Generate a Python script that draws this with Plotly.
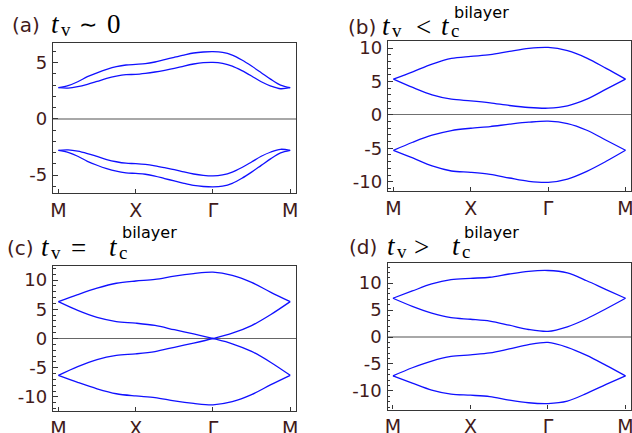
import plotly.graph_objects as go

W, H = 632, 433

# k-path positions (M -> X -> Gamma -> M)
k = [0, 0.25, 0.5, 0.75, 1, 1.25, 1.5, 1.75, 2, 2.25, 2.5, 2.75, 3]
k_fine = [0, 0.125, 0.25, 0.375, 0.5, 0.625, 0.75, 0.875,
          1, 1.125, 1.25, 1.375, 1.5, 1.625, 1.75, 1.875,
          2, 2.125, 2.25, 2.375, 2.5, 2.625, 2.75, 2.875, 3]
tick_pos = [0, 1, 2, 3]
tick_lbl = ["M", "X", "Γ", "M"]

# (a) t_v ~ 0
a_up_outer = [2.77, 2.95, 3.3, 3.75, 4.1, 4.4, 4.64, 4.79,
              4.85, 4.91, 5.06, 5.27, 5.48, 5.68, 5.86, 5.95,
              5.98, 5.92, 5.68, 5.24, 4.70, 4.11, 3.51, 3.0, 2.77]
a_up_inner = [2.77, 2.74, 2.86, 3.07, 3.33, 3.6, 3.8, 3.93,
              3.96, 4.05, 4.17, 4.32, 4.49, 4.70, 4.88, 5.0,
              5.03, 4.94, 4.70, 4.29, 3.81, 3.30, 2.92, 2.68, 2.77]
a_lo_inner = [-2.8, -2.77, -2.88, -3.09, -3.35, -3.62, -3.82, -3.95,
              -3.99, -4.06, -4.19, -4.35, -4.52, -4.73, -4.91, -5.03,
              -5.08, -4.99, -4.74, -4.33, -3.84, -3.33, -2.95, -2.71, -2.8]
a_lo_outer = [-2.8, -2.98, -3.33, -3.78, -4.13, -4.43, -4.66, -4.8,
              -4.86, -4.93, -5.09, -5.31, -5.53, -5.74, -5.92, -6.02,
              -6.06, -5.99, -5.74, -5.29, -4.74, -4.14, -3.54, -3.03, -2.8]

# (b) t_v < t_c
b_up_top = [5.35, 6.45, 7.6, 8.45, 8.75, 9.0, 9.5, 9.95, 10.1, 9.6, 8.5, 6.95, 5.35]
b_up_bot = [5.35, 4.1, 3.0, 2.35, 2.1, 1.8, 1.4, 1.1, 1.0, 1.35, 2.35, 3.85, 5.35]
b_lo_top = [-5.3, -4.1, -3.05, -2.35, -2.0, -1.75, -1.4, -1.1, -0.95, -1.3, -2.3, -3.8, -5.3]
b_lo_bot = [-5.3, -6.45, -7.65, -8.4, -8.6, -8.9, -9.45, -9.95, -10.1, -9.6, -8.45, -6.95, -5.3]

# (c) t_v = t_c
c_top = [6.3, 7.5, 8.6, 9.45, 9.83, 10.1, 10.67, 11.1, 11.34, 10.8, 9.6, 7.9, 6.3]
c_cross1 = [6.3, 4.8, 3.6, 2.9, 2.63, 2.23, 1.5, 0.78, 0.0, -0.9, -2.2, -4.1, -6.3]
c_cross2 = [-6.3, -4.8, -3.6, -2.9, -2.63, -2.23, -1.5, -0.78, 0.0, 0.9, 2.2, 4.1, 6.3]
c_bot = [-6.3, -7.5, -8.6, -9.45, -9.83, -10.1, -10.67, -11.1, -11.34, -10.8, -9.6, -7.9, -6.3]

# (d) t_v > t_c
d_up_top = [7.2, 8.55, 9.85, 10.65, 10.9, 11.1, 11.7, 12.2, 12.35, 11.9, 10.45, 8.8, 7.2]
d_up_bot = [7.2, 5.7, 4.45, 3.6, 3.3, 2.95, 2.2, 1.4, 1.05, 1.9, 3.4, 5.25, 7.2]
d_lo_top = [-7.2, -5.7, -4.45, -3.6, -3.3, -2.95, -2.2, -1.4, -1.0, -1.9, -3.4, -5.25, -7.2]
d_lo_bot = [-7.2, -8.55, -9.85, -10.6, -10.8, -11.05, -11.7, -12.2, -12.35, -11.9, -10.45, -8.8, -7.2]

y_tickvals_a = [-5, 0, 5]
y_ticktext_a = ["-5", "0", "5"]
y_tickvals = [-10, -5, 0, 5, 10]
y_ticktext = ["-10", "-5", "0", "5", "10"]


def px(x):
    return x / W


def py(y):
    return 1 - y / H


panels = [
    dict(kx=k_fine, curves=[a_up_outer, a_up_inner, a_lo_inner, a_lo_outer],
         xd=[px(53), px(296)], yd=[py(193), py(43)], yr=[-6.6, 6.75],
         tv=y_tickvals_a, tt=y_ticktext_a, zc="#a8a8a8", zw=2),
    dict(kx=k, curves=[b_up_top, b_up_bot, b_lo_top, b_lo_bot],
         xd=[px(388), px(631.3)], yd=[py(190.7), py(40.7)], yr=[-11.35, 11.1],
         tv=y_tickvals, tt=y_ticktext, zc="#707070", zw=1),
    dict(kx=k, curves=[c_top, c_cross1, c_cross2, c_bot],
         xd=[px(53), px(296)], yd=[py(411), py(265.7)], yr=[-12.4, 12.45],
         tv=y_tickvals, tt=y_ticktext, zc="#666666", zw=1),
    dict(kx=k, curves=[d_up_top, d_up_bot, d_lo_top, d_lo_bot],
         xd=[px(387.5), px(631.3)], yd=[py(409.5), py(262.7)], yr=[-13.45, 13.8],
         tv=y_tickvals, tt=y_ticktext, zc="#a8a8a8", zw=2),
]

fig = go.Figure()
lbl_color = "#421a1a"
frame_color = "#363636"

for i, p in enumerate(panels, start=1):
    suf = "" if i == 1 else str(i)
    for cv in p["curves"]:
        fig.add_trace(go.Scatter(
            x=p["kx"], y=cv, mode="lines",
            line=dict(color="#1010ff", width=1.3, shape="spline", smoothing=0.9),
            xaxis="x" + suf, yaxis="y" + suf, showlegend=False, hoverinfo="skip"))
    fig.layout["xaxis" + suf] = dict(
        domain=p["xd"], anchor="y" + suf, range=[-0.07, 3.075], automargin=False,
        tickvals=tick_pos, ticktext=tick_lbl, ticks="inside", ticklen=4,
        tickcolor=frame_color, tickwidth=1, ticklabeloverflow="allow",
        showline=True, mirror=True, linecolor=frame_color, linewidth=1.3,
        showgrid=False, zeroline=False,
        tickfont=dict(family="DejaVu Sans", size=19, color=lbl_color))
    fig.layout["yaxis" + suf] = dict(
        domain=p["yd"], anchor="x" + suf, range=p["yr"], automargin=False,
        tickvals=p["tv"], ticktext=p["tt"], ticks="inside", ticklen=5,
        tickcolor=frame_color, tickwidth=1, ticklabelstandoff=1,
        minor=dict(ticks="inside", ticklen=2.5, dtick=1, tickcolor=frame_color, showgrid=False),
        showline=True, mirror=True, linecolor=frame_color, linewidth=1.3,
        showgrid=False, zeroline=True, zerolinecolor=p["zc"], zerolinewidth=p["zw"],
        tickfont=dict(family="DejaVu Sans", size=18, color=lbl_color))

SANS = "DejaVu Sans"
SERIF = "Liberation Serif"

anns = []


def piece(text, x, y, family, size, color="black"):
    anns.append(dict(text=text, x=px(x), y=py(y), xref="paper", yref="paper",
                     xanchor="left", yanchor="middle", showarrow=False,
                     font=dict(family=family, size=size, color=color)))


# title glyph positions (left edges): label, t, sub, relation, rhs, rhs-sub, bilayer
titles = [
    dict(lab="(a)", y=25, lx=13, tx=52, sub1="v", vx=62, rel="∼", rx=80,
         rhs="0", hx=108, sub2=None, cx=None, bx=None),
    dict(lab="(b)", y=27, lx=349, tx=383, sub1="v", vx=393, rel="&lt;", rx=417,
         rhs="t", hx=442, sub2="c", cx=452, bx=455),
    dict(lab="(c)", y=248, lx=8, tx=42, sub1="v", vx=52, rel="=", rx=72,
         rhs="t", hx=110, sub2="c", cx=120, bx=123),
    dict(lab="(d)", y=247, lx=350, tx=388, sub1="v", vx=398, rel="&gt;", rx=415,
         rhs="t", hx=453, sub2="c", cx=463, bx=465),
]
OFF = 3
for t in titles:
    y = t["y"]
    piece(t["lab"], t["lx"] - OFF, y, SANS, 20, lbl_color)
    piece("<i>t</i>", t["tx"] - OFF, y - 1, SERIF, 27)
    piece(t["sub1"], t["vx"] - OFF, y + 4, SERIF, 19)
    if t["rel"] == "∼":
        piece(t["rel"], t["rx"] - OFF, y, "DejaVu Sans", 22)
    else:
        piece(t["rel"], t["rx"] - OFF, y, SERIF, 27)
    if t["rhs"] == "t":
        piece("<i>t</i>", t["hx"] - OFF, y - 1, SERIF, 27)
        piece(t["sub2"], t["cx"] - OFF, y + 4, SERIF, 19)
        piece("bilayer", t["bx"] - OFF, y - 15, SANS, 16)
    else:
        piece(t["rhs"], t["hx"] - OFF, y - 1, SERIF, 27)

fig.update_layout(width=W, height=H, margin=dict(l=0, r=0, t=0, b=0, autoexpand=False),
                  paper_bgcolor="white", plot_bgcolor="white", annotations=anns)

fig.write_html("out.html")
